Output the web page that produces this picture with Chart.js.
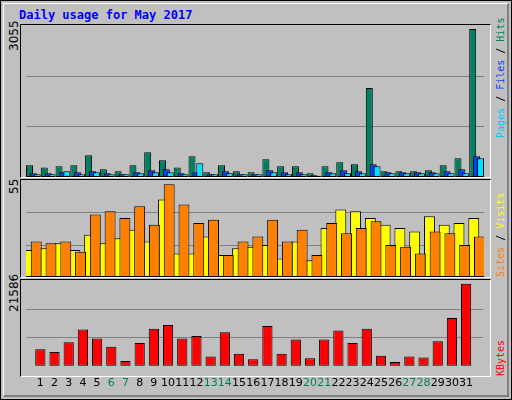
<!DOCTYPE html>
<html><head><meta charset="utf-8">
<script src="https://cdn.jsdelivr.net/npm/chart.js@4"></script>
<style>
body{margin:0;background:#fff}
#frame{position:absolute;left:0;top:0;width:510px;height:398px;background:#c0c0c0;border:1px solid #000}
#inner{position:absolute;left:2px;top:2px;width:503px;height:391px;border-top:1px solid #fff;border-left:1px solid #fff;border-right:2px solid #808080;border-bottom:2px solid #808080}
.panel{position:absolute;left:20px;width:469px;border-top:1px solid #000;border-left:1px solid #000;border-right:1px solid #fff;border-bottom:1px solid #fff;background:#c0c0c0}
canvas{position:absolute}
.rot{position:absolute;transform-origin:left top;transform:rotate(-90deg);white-space:nowrap;font-family:"DejaVu Sans Mono",monospace;font-size:10px;line-height:11px}
.num{font-family:"DejaVu Sans",sans-serif;font-size:12px;line-height:12px;color:#000}
#title{position:absolute;left:19px;top:8px;font-family:"DejaVu Sans Mono",monospace;font-weight:bold;font-size:12px;color:#0000ff}
</style></head><body>
<div id="frame"><div id="inner"></div></div>
<div id="title">Daily usage for May 2017</div>
<div class="panel" style="top:24px;height:152px"></div>
<div class="panel" style="top:179px;height:97px"></div>
<div class="panel" style="top:279px;height:96px"></div>
<div class="rot num" style="left:8px;top:51px">3055</div>
<div class="rot num" style="left:8px;top:194px">55</div>
<div class="rot num" style="left:8px;top:312px">21586</div>
<div class="rot" style="left:495px;top:138px"><span style="color:#00c8ff">Pages</span><span style="color:#000"> / </span><span style="color:#0040ff">Files</span><span style="color:#000"> / </span><span style="color:#008060">Hits</span></div>
<div class="rot" style="left:495px;top:277px"><span style="color:#ff8000">Sites</span><span style="color:#000"> / </span><span style="color:#ffff00">Visits</span></div>
<div class="rot" style="left:495px;top:376px"><span style="color:#ff0000">KBytes</span></div>
<canvas id="c1" style="left:25.6px;top:25px;width:458px;height:152px"></canvas>
<canvas id="c2" style="left:25.6px;top:180px;width:458px;height:97px"></canvas>
<canvas id="c3" style="left:25.6px;top:280px;width:458px;height:121px"></canvas>
<script>
const days = Array.from({length:31},(_,i)=>String(i+1));
const weekendDays = [6,7,13,14,20,21,27,28];
const hits = [242,194,221,242,449,159,117,242,511,346,194,428,97,242,117,97,366,221,221,76,221,304,263,1838,117,117,117,138,242,387,3055];
const files = [76,76,97,97,117,76,55,97,138,159,76,97,55,117,55,55,138,97,97,35,97,138,117,263,97,97,97,97,117,159,428];
const pages = [55,55,117,55,97,55,55,76,97,97,55,283,55,76,55,55,97,55,55,20,76,76,76,221,76,76,76,76,76,76,387];
const visits = [16,17,20,16,25,20,23,28,21,46,14,14,24,13,17,18,19,11,21,10,29,40,39,35,31,29,27,36,31,32,35];
const sites = [21,20,21,15,37,39,35,42,31,55,43,32,34,13,21,24,34,21,28,13,32,26,29,33,19,18,14,27,26,19,24];
const kbytes = [4333,3624,6224,9532,7169,5042,1260,5987,9769,10714,7169,7878,2442,8823,3151,1733,10478,3151,6933,1970,6933,9296,5987,9769,2679,1024,2442,2206,6460,12605,21586];

const gridPlugin = {id:'g', beforeDatasetsDraw(ch){
  const a=ch.chartArea, c=ch.ctx; c.save(); c.strokeStyle='#808080'; c.lineWidth=1;
  [1/3,2/3].forEach(f=>{const y=Math.round(a.bottom-(a.bottom-a.top)*f)+0.5; c.beginPath(); c.moveTo(-10,y); c.lineTo(a.right+10,y); c.stroke();});
  c.restore();
  // draw datasets in forward order so the right-hand bar sits on top
  ch.getSortedVisibleDatasetMetas().forEach(m=>m.controller.draw());
  return false;
}};

function ds(data,color){return {data,backgroundColor:color,borderColor:'#000',borderWidth:1,borderSkipped:false};}
function make(id,datasets,max,cat,bar,showX){
  new Chart(document.getElementById(id),{type:'bar',data:{labels:days,datasets},
    plugins:[gridPlugin],
    options:{responsive:false,animation:false,devicePixelRatio:1,
      layout:{padding:0},
      plugins:{legend:{display:false},tooltip:{enabled:false}},
      datasets:{bar:{categoryPercentage:cat,barPercentage:bar}},
      scales:{
        y:{display:false,min:0,max},
        x:{display:showX,grid:{display:false,drawTicks:false},border:{display:false},
           ticks:{padding:11,autoSkip:false,maxRotation:0,font:{family:'DejaVu Sans',size:11},
             color:c=>weekendDays.includes(c.index+1)?'#008060':'#000'}}
      }}});
}
['c1','c2','c3'].forEach(id=>{const e=document.getElementById(id);e.width=458;e.height=parseInt(e.style.height);});
make('c1',[ds(hits,'#008060'),ds(files,'#0040ff'),ds(pages,'#00e0ff')],3138,0.79,1.8,false);
make('c2',[ds(visits,'#ffff00'),ds(sites,'#ff8000')],57.5,0.77,1.92,false);
make('c3',[ds(kbytes,'#ff0000')],22600,0.72,1,true);
</script></body></html>
